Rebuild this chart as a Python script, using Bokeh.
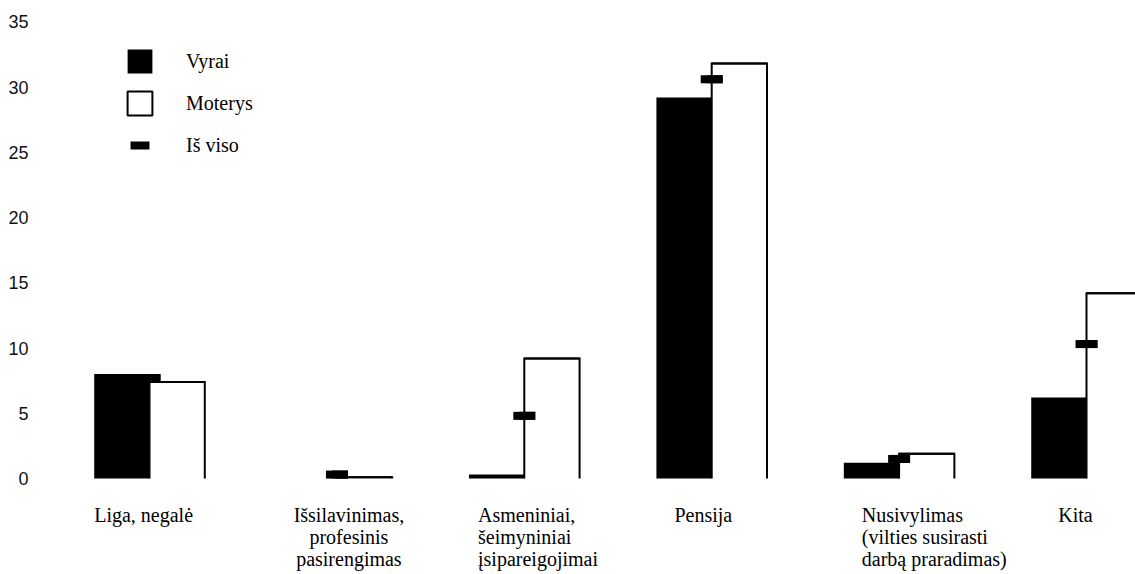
from bokeh.plotting import figure
from bokeh.models import (ColumnDataSource, FixedTicker, Legend, LegendItem,
                          Range1d)
from bokeh.embed import file_html
from bokeh.resources import INLINE
from bokeh.core.properties import value

# ---------------- data ----------------
categories = [
    "Liga, negalė",
    "Išsilavinimas,\nprofesinis\npasirengimas",
    "Asmeniniai,\nšeimyniniai\nįsipareigojimai",
    "Pensija",
    "Nusivylimas\n(vilties susirasti\ndarbą praradimas)",
    "Kita",
]
vyrai = [8.0, 0.0, 0.3, 29.2, 1.2, 6.2]
moterys = [7.4, 0.1, 9.2, 31.8, 1.9, 14.2]
is_viso = [7.7, 0.3, 4.8, 30.6, 1.5, 10.3]
y_ticks = [0, 5, 10, 15, 20, 25, 30, 35]
series_names = ["Vyrai", "Moterys", "Iš viso"]

# ---------------- layout ----------------
W, H = 1135, 574
BORDER_L = 38
PX_PER_CAT = 187.4
PX_PER_UNIT = 13.05
FIRST_CENTER_PX = 111      # from frame left
ZERO_PX_FROM_TOP = 478
BAR_W = 0.295              # in category units
MARK_W = 0.117
label_shift_px = [0, 12, 9, 18, 18, 27]
centered_labels = {1}

frame_w = W - BORDER_L
x_start = -FIRST_CENTER_PX / PX_PER_CAT
x_end = x_start + frame_w / PX_PER_CAT
y_end = ZERO_PX_FROM_TOP / PX_PER_UNIT
y_start = y_end - H / PX_PER_UNIT

idx = list(range(len(categories)))

p = figure(width=W, height=H, output_backend="svg", toolbar_location=None,
           x_axis_type=None, x_range=Range1d(x_start, x_end),
           y_range=Range1d(y_start, y_end),
           min_border_left=BORDER_L, min_border_right=0,
           min_border_top=0, min_border_bottom=0)
p.outline_line_color = None
p.grid.visible = False
p.background_fill_color = "white"
p.border_fill_color = "white"

# y axis
ya = p.yaxis[0]
ya.ticker = FixedTicker(ticks=y_ticks)
ya.axis_line_color = None
ya.major_tick_line_color = None
ya.minor_tick_line_color = None
ya.major_label_standoff = 4
ya.major_label_text_font = "Liberation Sans"
ya.major_label_text_font_size = "18px"
ya.major_label_text_color = "#111111"

# sources
src_v = ColumnDataSource(dict(x=[i - BAR_W / 2 for i in idx], top=vyrai))
src_m = ColumnDataSource(dict(x=[i + BAR_W / 2 for i in idx], top=moterys))
src_m_out = ColumnDataSource(dict(
    xs=[[i, i, i + BAR_W, i + BAR_W] for i in idx],
    ys=[[0, m, m, 0] for m in moterys]))
src_t = ColumnDataSource(dict(x0=[i - MARK_W / 2 for i in idx],
                              x1=[i + MARK_W / 2 for i in idx],
                              y=is_viso))

r_v = p.vbar(x="x", top="top", width=BAR_W, bottom=0, source=src_v,
             fill_color="black", line_color=None)
p.vbar(x="x", top="top", width=BAR_W, bottom=0, source=src_m,
       fill_color="white", line_color=None)
p.multi_line(xs="xs", ys="ys", source=src_m_out, line_color="black",
             line_width=2, line_join="miter")
# zero-height rects lying on the bars' top edges: they give the legend its outlined square
r_m_leg = p.vbar(x="x", top="top", bottom="top", width=BAR_W, source=src_m,
                 fill_color="white", line_color="black", line_width=2)
r_t = p.segment(x0="x0", y0="y", x1="x1", y1="y", source=src_t,
                line_color="black", line_width=8, line_cap="butt")
# same marks again, dashed so that the legend shows a short dash
r_t_leg = p.segment(x0="x0", y0="y", x1="x1", y1="y", source=src_t,
                    line_color="black", line_width=8, line_cap="butt",
                    line_dash="0 6 19 200")

# category labels
left_src = ColumnDataSource(dict(
    x=[i - BAR_W for i in idx if i not in centered_labels],
    y=[0 for i in idx if i not in centered_labels],
    text=[categories[i] for i in idx if i not in centered_labels],
    dx=[label_shift_px[i] for i in idx if i not in centered_labels]))
center_src = ColumnDataSource(dict(
    x=[i for i in idx if i in centered_labels],
    y=[0 for i in idx if i in centered_labels],
    text=[categories[i] for i in idx if i in centered_labels],
    dx=[label_shift_px[i] for i in idx if i in centered_labels]))
for src, al in ((left_src, "left"), (center_src, "center")):
    p.text(x="x", y="y", text="text", x_offset="dx", y_offset=25, source=src,
           text_font=value("Liberation Serif"), text_font_size="20px",
           text_align=al, text_baseline="top", text_line_height=1.0,
           text_color="black")

legend = Legend(items=[LegendItem(label=series_names[0], renderers=[r_v]),
                       LegendItem(label=series_names[1], renderers=[r_m_leg]),
                       LegendItem(label=series_names[2], renderers=[r_t_leg])],
                location=(86, 414), orientation="vertical",
                glyph_width=31, glyph_height=30, label_height=30,
                label_standoff=31, spacing=12, padding=0, margin=0,
                border_line_color=None, background_fill_alpha=0,
                label_text_font="Liberation Serif",
                label_text_font_size="20px", label_text_color="black")
p.add_layout(legend)

open("out.html", "w").write(file_html(p, INLINE))
